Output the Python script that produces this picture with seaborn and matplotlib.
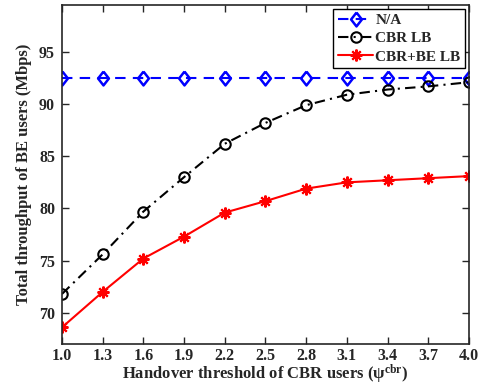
import matplotlib
matplotlib.use("Agg")
import matplotlib.pyplot as plt
import seaborn as sns
import pandas as pd

x_vals = [1.0, 1.3, 1.6, 1.9, 2.2, 2.5, 2.8, 3.1, 3.4, 3.7, 4.0]
na_vals = [92.5] * 11
cbr_lb = [71.8, 75.6, 79.7, 83.0, 86.2, 88.2, 89.9, 90.9, 91.4, 91.7, 92.1]
cbr_be_lb = [68.6, 72.0, 75.2, 77.3, 79.6, 80.7, 81.9, 82.5, 82.7, 82.9, 83.1]
series_names = ["N/A", "CBR LB", "CBR+BE LB"]
x_ticks = [1.0, 1.3, 1.6, 1.9, 2.2, 2.5, 2.8, 3.1, 3.4, 3.7, 4.0]
x_tick_labels = ["1.0", "1.3", "1.6", "1.9", "2.2", "2.5", "2.8", "3.1", "3.4", "3.7", "4.0"]
y_ticks = [70, 75, 80, 85, 90, 95]

sns.set_style("ticks")
plt.rcParams['font.family'] = ['Liberation Serif', 'DejaVu Serif']
plt.rcParams['font.weight'] = 'bold'
plt.rcParams['mathtext.fontset'] = 'custom'
plt.rcParams['mathtext.rm'] = 'Liberation Serif:bold'
plt.rcParams['mathtext.it'] = 'Liberation Serif:bold'
plt.rcParams['mathtext.bf'] = 'Liberation Serif:bold'

df = pd.DataFrame({
    "x": x_vals * 3,
    "y": na_vals + cbr_lb + cbr_be_lb,
    "series": [series_names[0]] * 11 + [series_names[1]] * 11 + [series_names[2]] * 11,
})

fig = plt.figure(figsize=(4.78, 3.87), dpi=100)
ax = fig.add_axes([0.1297, 0.111, 0.8513, 0.876])

diamond = [(0, 1), (0.78, 0), (0, -1), (-0.78, 0), (0, 1)]
styles = {
    "N/A": dict(color="#0000ff", marker=diamond, linestyle=(0, (5, 3.5)), ms=10, mfc="none", mew=1.8),
    "CBR LB": dict(color="black", marker="o", linestyle=(0, (5, 2.5, 1, 2.5)), ms=7.5, mfc="none", mew=1.5),
    "CBR+BE LB": dict(color="#ff0000", marker=(8, 2, 0), linestyle="-", ms=8.5, mfc="none", mew=1.5),
}
for name in series_names:
    st = styles[name]
    sub = df[df["series"] == name]
    sns.lineplot(data=sub, x="x", y="y", ax=ax, label=name, color=st["color"],
                 marker=st["marker"], linestyle=st["linestyle"], markersize=st["ms"],
                 markerfacecolor=st["mfc"], markeredgecolor=st["color"],
                 markeredgewidth=st["mew"], linewidth=1.5)

ax.set_xlim(1.0, 4.0)
ax.set_ylim(67, 99.5)
ax.set_xticks(x_ticks)
ax.set_xticklabels(x_tick_labels)
ax.set_yticks(y_ticks)
ax.tick_params(direction="in", top=True, right=True, labelsize=11.5, length=5, width=1)
ax.tick_params(axis="x", pad=3)
ax.tick_params(axis="y", pad=5)
for lab in ax.get_xticklabels() + ax.get_yticklabels():
    lab.set_fontweight("bold")
for sp in ax.spines.values():
    sp.set_linewidth(1.2)
    sp.set_visible(True)

ax.set_xlabel("Handover threshold of CBR users (\u03c8$^{\\mathregular{cbr}}$)", fontsize=12, fontweight="bold", labelpad=-1)
ax.set_ylabel("Total throughput of BE users (Mbps)", fontsize=12, fontweight="bold", labelpad=5)

leg = ax.legend(loc="upper right", fontsize=11, frameon=True, fancybox=False,
                edgecolor="black", framealpha=1, borderpad=0.3, handlelength=2.3,
                handletextpad=0.15, labelspacing=0.3, borderaxespad=0.25)
leg.get_frame().set_linewidth(1.0)
for t in leg.get_texts():
    t.set_fontweight("bold")

fig.savefig("out.png", dpi=100)
